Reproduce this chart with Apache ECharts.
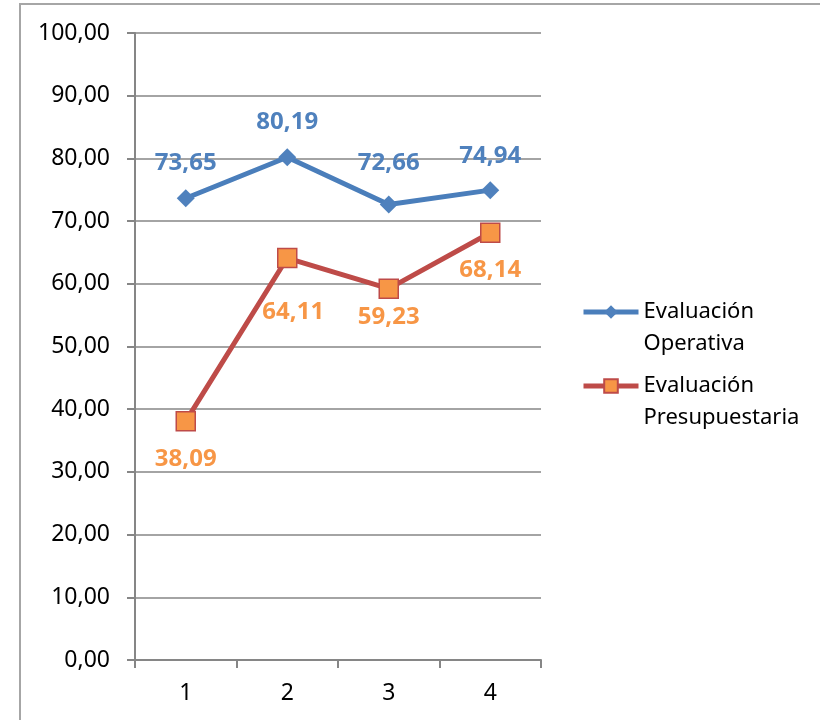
<!DOCTYPE html>
<html>
<head>
<meta charset="utf-8">
<script src="https://cdn.jsdelivr.net/npm/echarts@6/dist/echarts.min.js"></script>
<style>
  html, body { margin: 0; padding: 0; background: #fff; overflow: hidden; }
  #frame { position: absolute; left: 19px; top: 3px; width: 1200px; height: 1200px; border: 2px solid #a6a6a6; }
  #chart { position: absolute; left: 0; top: 0; width: 820px; height: 720px; }
</style>
</head>
<body>
<div id="frame"></div>
<div id="chart"></div>
<script>
// datos del gráfico
var categories = ['1', '2', '3', '4'];
var operativa = [73.65, 80.19, 72.66, 74.94];
var presupuestaria = [38.09, 64.11, 59.23, 68.14];
var seriesNames = ['Evaluación\nOperativa', 'Evaluación\nPresupuestaria'];

// desplazamiento de las etiquetas (px), como en el original
var shiftOperativa = [[0, -35], [0, -35], [0, -41], [0, -34]];
var shiftPresupuestaria = [[0, 38], [6, 54], [0, 29], [0, 37]];

var font = 'Noto Sans';
var fmt = function (v) { return Number(v).toFixed(2).replace('.', ','); };

function withLabels(values, shifts) {
  return values.map(function (v, i) {
    return { value: v, label: { offset: shifts[i] } };
  });
}

var chart = echarts.init(document.getElementById('chart'));
chart.setOption({
  animation: false,
  grid: { left: 135, right: 279, top: 33, bottom: 60 },
  legend: {
    orient: 'vertical',
    left: 581,
    top: 264,
    padding: 0,
    itemWidth: 55,
    itemHeight: 17,
    itemGap: -22,
    lineStyle: { width: 5 },
    // línea en blanco delante: el icono queda a la altura de la primera línea
    formatter: function (name) { return '\n' + name; },
    textStyle: { fontFamily: font, fontSize: 22, color: '#000', lineHeight: 32 },
    data: seriesNames
  },
  xAxis: {
    type: 'category',
    data: categories,
    boundaryGap: true,
    axisLine: { lineStyle: { color: '#868686', width: 2 } },
    axisTick: { show: true, length: 8, lineStyle: { color: '#868686', width: 2 } },
    axisLabel: { fontFamily: font, fontSize: 23, color: '#000', margin: 22 }
  },
  yAxis: {
    type: 'value',
    min: 0,
    max: 100,
    interval: 10,
    axisLine: { show: true, lineStyle: { color: '#868686', width: 2 } },
    axisTick: { show: true, length: 8, lineStyle: { color: '#868686', width: 2 } },
    splitLine: { lineStyle: { color: '#868686', width: 1.5 } },
    axisLabel: { fontFamily: font, fontSize: 23, color: '#000', margin: 25, formatter: fmt }
  },
  series: [
    {
      name: seriesNames[0],
      type: 'line',
      data: withLabels(operativa, shiftOperativa),
      symbol: 'diamond',
      symbolSize: 18,
      itemStyle: { color: '#4F81BD' },
      lineStyle: { color: '#4A7EBB', width: 5 },
      label: {
        show: true, position: 'inside',
        fontFamily: font, fontSize: 24, fontWeight: 'bold', color: '#4F81BD',
        formatter: function (p) { return fmt(p.value); }
      }
    },
    {
      name: seriesNames[1],
      type: 'line',
      data: withLabels(presupuestaria, shiftPresupuestaria),
      symbol: 'rect',
      symbolSize: 19,
      itemStyle: { color: '#F79646', borderColor: '#BE4B48', borderWidth: 1.5 },
      lineStyle: { color: '#BE4B48', width: 5 },
      label: {
        show: true, position: 'inside',
        fontFamily: font, fontSize: 24, fontWeight: 'bold', color: '#F79646',
        formatter: function (p) { return fmt(p.value); }
      }
    }
  ]
});
</script>
</body>
</html>
